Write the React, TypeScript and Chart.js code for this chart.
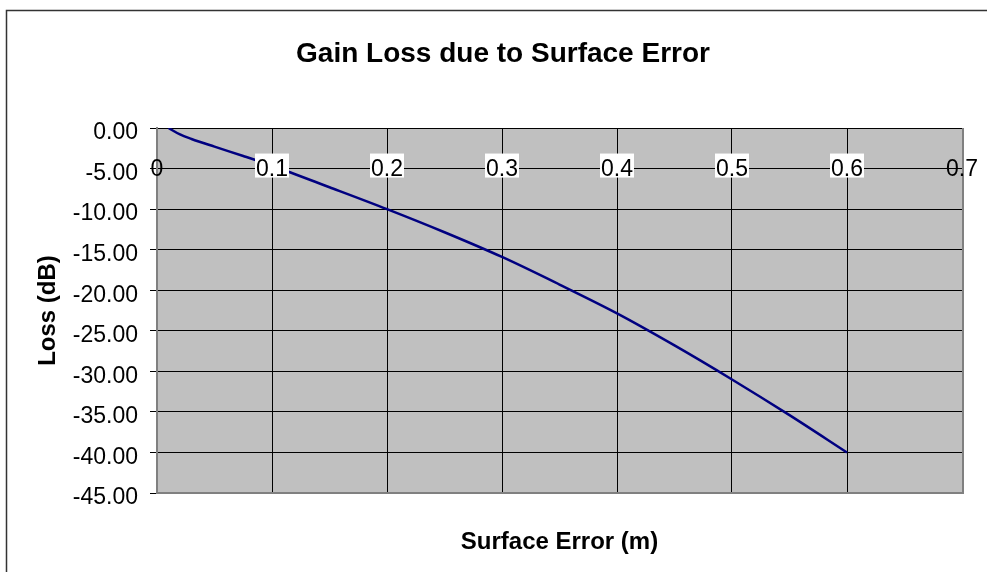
import React, { useEffect, useRef } from "react";
import { Chart, registerables } from "chart.js";

Chart.register(...registerables);

const surfaceError = [0.01, 0.02, 0.03, 0.05, 0.075, 0.1, 0.15, 0.2, 0.25, 0.3, 0.35, 0.4, 0.45, 0.5, 0.55, 0.6];
const lossDb = [0, -0.8, -1.35, -2.3, -3.45, -4.65, -7.3, -10.0, -12.85, -15.9, -19.3, -22.85, -26.8, -31.0, -35.4, -40.0];
const xTickLabels = ["0", "0.1", "0.2", "0.3", "0.4", "0.5", "0.6", "0.7"];
const xLabelRowValue = -5;

const chartTitle = "Gain Loss due to Surface Error";
const xTitle = "Surface Error (m)";
const yTitle = "Loss (dB)";

const FONT = "'Liberation Sans', Arial, sans-serif";

const decorPlugin = {
  id: "decor",
  beforeDraw(chart: any) {
    const { ctx, chartArea } = chart;
    ctx.save();
    ctx.fillStyle = "#C0C0C0";
    ctx.fillRect(chartArea.left, chartArea.top, chartArea.right - chartArea.left, chartArea.bottom - chartArea.top);
    ctx.restore();
  },
  beforeDatasetsDraw(chart: any) {
    const { ctx, chartArea } = chart;
    ctx.save();
    ctx.strokeStyle = "#808080";
    ctx.lineWidth = 2;
    ctx.beginPath();
    ctx.moveTo(chartArea.right + 1, chartArea.top);
    ctx.lineTo(chartArea.right + 1, chartArea.bottom + 1);
    ctx.stroke();
    ctx.restore();
  },
  afterDraw(chart: any) {
    const { ctx, chartArea } = chart;
    const xs = chart.scales.x;
    const ys = chart.scales.y;
    ctx.save();
    // x tick labels inside plot area
    ctx.font = `23px ${FONT}`;
    ctx.textAlign = "center";
    ctx.textBaseline = "alphabetic";
    const rowY = ys.getPixelForValue(xLabelRowValue);
    xTickLabels.forEach((lab, i) => {
      const px = xs.getPixelForValue(Number(lab));
      const w = ctx.measureText(lab).width;
      if (i > 0 && i < xTickLabels.length - 1) {
        ctx.fillStyle = "#FFFFFF";
        ctx.fillRect(px - w / 2 - 1, rowY - 15, w + 2, 24);
      }
      ctx.fillStyle = "#000000";
      ctx.fillText(lab, px, rowY + 7);
    });
    // title
    ctx.font = `bold 28px ${FONT}`;
    ctx.fillText(chartTitle, 503, 62);
    // x title
    ctx.font = `bold 24px ${FONT}`;
    ctx.fillText(xTitle, (chartArea.left + chartArea.right) / 2, 549);
    // y title
    ctx.save();
    ctx.translate(55, (chartArea.top + chartArea.bottom) / 2);
    ctx.rotate(-Math.PI / 2);
    ctx.fillText(yTitle, 0, 0);
    ctx.restore();
    // outer border
    ctx.strokeStyle = "#333333";
    ctx.lineWidth = 1.5;
    ctx.strokeRect(6.5, 10.5, 1200, 800);
    ctx.restore();
  },
};

export default function App() {
  const ref = useRef<HTMLCanvasElement | null>(null);
  useEffect(() => {
    document.body.style.margin = "0";
    const canvas = ref.current;
    if (!canvas) return;
    const chart = new Chart(canvas, {
      type: "line",
      data: {
        datasets: [
          {
            label: "Loss",
            data: surfaceError.map((x, i) => ({ x, y: lossDb[i] })),
            borderColor: "#000080",
            borderWidth: 2.5,
            pointRadius: 0,
            fill: false,
            cubicInterpolationMode: "monotone",
          },
        ],
      },
      options: {
        animation: false,
        responsive: false,
        devicePixelRatio: 1,
        layout: { padding: { left: 0, top: 128, right: 25, bottom: 79 } },
        plugins: {
          legend: { display: false },
          title: { display: false },
          tooltip: { enabled: false },
        },
        scales: {
          x: {
            type: "linear",
            min: 0,
            max: 0.7,
            ticks: { display: false, stepSize: 0.1 },
            grid: { color: "#000000", lineWidth: 1, drawTicks: false },
            border: { display: true, color: "#808080", width: 2 },
            afterFit: (scale: any) => {
              scale.height = 0;
            },
          },
          y: {
            type: "linear",
            min: -45,
            max: 0,
            ticks: {
              stepSize: 5,
              color: "#000000",
              font: { family: FONT, size: 23 },
              padding: 12,
              labelOffset: 5,
              callback: (v: any) => Number(v).toFixed(2),
            },
            grid: { color: "#000000", lineWidth: 1, drawTicks: true, tickLength: 7, tickColor: "#000000" },
            border: { display: true, color: "#808080", width: 2 },
            afterFit: (scale: any) => {
              scale.width = 157;
            },
          },
        },
      },
      plugins: [decorPlugin],
    } as any);
    return () => chart.destroy();
  }, []);
  return (
    <div style={{ width: 987, height: 572, position: "relative" }}>
      <canvas ref={ref} width={987} height={572} style={{ display: "block" }} />
    </div>
  );
}
